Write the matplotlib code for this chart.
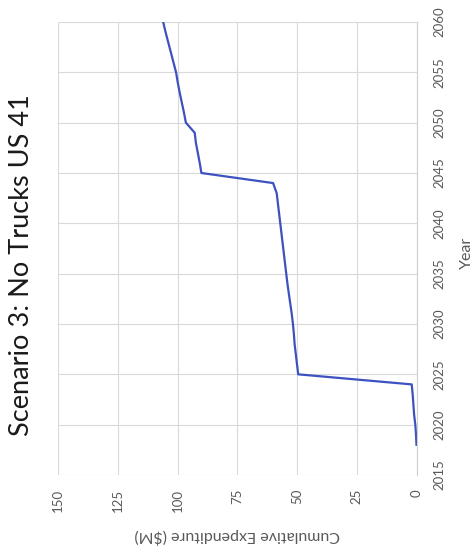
import matplotlib.pyplot as plt

plt.rcParams['font.family'] = ['Lato', 'DejaVu Sans']

# cumulative spending by year ($M)
years = [2018, 2019, 2020, 2021, 2022, 2023, 2024, 2025, 2026, 2027, 2028, 2029,
         2030, 2031, 2032, 2033, 2034, 2035, 2036, 2037, 2038, 2039, 2040, 2041,
         2042, 2043, 2044, 2045, 2046, 2047, 2048, 2049, 2050, 2051, 2052, 2053,
         2054, 2055, 2056, 2057, 2058, 2059, 2060]
cumulative = [0.0, 0.2, 0.5, 1.0, 1.3, 1.6, 2.0, 49.5, 50.0, 50.5, 51.0, 51.3,
              51.7, 52.2, 52.8, 53.4, 54.0, 54.5, 55.0, 55.5, 56.0, 56.5, 57.0, 57.5,
              58.0, 58.5, 60.0, 90.0, 90.7, 91.5, 92.3, 92.8, 96.5, 97.3, 98.2, 99.1,
              99.9, 100.6, 101.7, 102.8, 103.9, 105.0, 106.0]

year_ticks = list(range(2015, 2061, 5))
value_ticks = [0, 25, 50, 75, 100, 125, 150]

fig = plt.figure(figsize=(4.74, 5.48), dpi=100)
ax = fig.add_axes([58 / 474, 1 - 475 / 548, 358.5 / 474, 453 / 548])

# chart is laid on its side: years run up the right edge, spending runs right-to-left
ax.plot(cumulative, years, color='#3d52c0', linewidth=1.6)

ax.set_xlim(150, 0)
ax.set_ylim(2015, 2060)
ax.set_xticks(value_ticks)
ax.set_yticks(year_ticks)
ax.yaxis.tick_right()

ax.grid(color='#d9d9d9', linewidth=0.8)
ax.set_axisbelow(True)
for side in ['top', 'left', 'bottom']:
    ax.spines[side].set_visible(False)
ax.spines['right'].set_color('#d0d0d0')
ax.spines['right'].set_linewidth(0.8)

ax.tick_params(axis='both', length=0, colors='#595959', labelsize=9.5)
ax.tick_params(axis='x', pad=10, labelrotation=90)
ax.tick_params(axis='y', pad=12, labelrotation=90)
for lbl in ax.get_yticklabels():
    lbl.set_va('center')

ax.set_xlabel('Cumulative Expenditure ($M)', fontsize=11.5, color='#595959',
              rotation=180, ha='center', va='center')
ax.xaxis.set_label_coords(0.5, -0.135)
ax.yaxis.set_label_position('right')
ax.set_ylabel('Year', fontsize=11.5, color='#595959', rotation=90,
              ha='center', va='center')
ax.yaxis.set_label_coords(1.14, 0.49)

fig.text(22 / 474, 1 - 265 / 548, 'Scenario 3: No Trucks US 41', rotation=90,
         fontsize=19.5, color='#1a1a1a', ha='center', va='center')

fig.savefig('out.png', dpi=100)
